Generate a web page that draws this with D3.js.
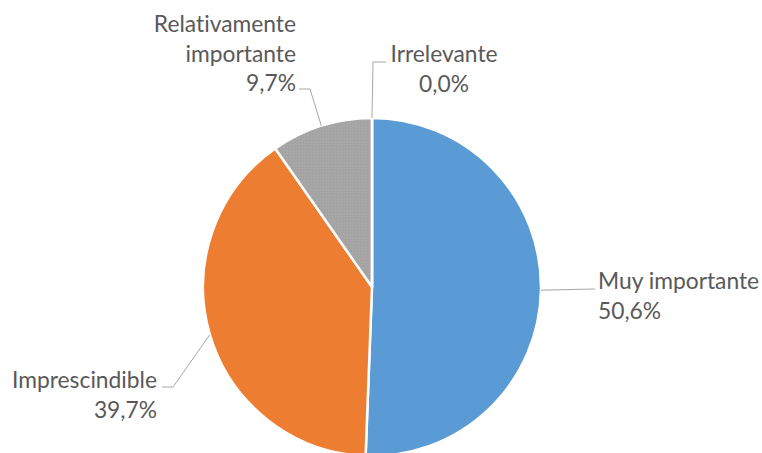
<!DOCTYPE html>
<html lang="es">
<head>
  <meta charset="utf-8" />
  <script src="https://d3js.org/d3.v7.min.js"></script>
  <style>
    body { margin: 0; background: #fff; }
    .label { font-family: Lato, "Open Sans", sans-serif; font-size: 22.8px; fill: #595959; font-variant-ligatures: none; }
    .leader { fill: none; stroke: #a6a6a6; stroke-width: 1px; }
  </style>
</head>
<body>
  <div id="visu"></div>
  <script>
    const width = 762, height = 453;

    // datos
    const categorias = ["Muy importante", "Imprescindible", "Relativamente importante", "Irrelevante"];
    const valores = [50.6, 39.7, 9.7, 0.0];
    const colores = ["#5b9bd5", "#ed7d31", "#a5a5a5", "#7f7f7f"];
    const lineasEtiqueta = [["Muy importante"], ["Imprescindible"], ["Relativamente", "importante"], ["Irrelevante"]];

    const cx = 372, cy = 287, radius = 169;

    // posicion de las etiquetas (x, y de la primera linea) y codo de la linea guia
    const layout = [
      { anchor: "start", x: 598, y: 289, elbow: null, end: [595, 289] },
      { anchor: "end", x: 157, y: 388, elbow: [173, 387], end: [162, 387] },
      { anchor: "end", x: 296, y: 32, elbow: [310, 89], end: [299, 89] },
      { anchor: "middle", x: 444, y: 62, elbow: [373, 62], end: [386, 62] }
    ];

    const svg = d3.select("#visu").append("svg")
      .attr("width", width)
      .attr("height", height);

    // textura ligera del sector gris
    const defs = svg.append("defs");
    const pat = defs.append("pattern")
      .attr("id", "gris")
      .attr("width", 3).attr("height", 3)
      .attr("patternUnits", "userSpaceOnUse");
    pat.append("rect").attr("width", 3).attr("height", 3).attr("fill", "#a5a5a5");
    pat.append("rect").attr("width", 1).attr("height", 1).attr("fill", "#9f9f9f");
    pat.append("rect").attr("x", 2).attr("y", 1).attr("width", 1).attr("height", 1).attr("fill", "#aaaaaa");

    const datos = categorias.map((c, i) => ({ cat: c, value: valores[i], color: colores[i], lines: lineasEtiqueta[i] }));

    const pie = d3.pie().sort(null).value(d => d.value);
    const arcs = pie(datos);

    const arc = d3.arc().innerRadius(0).outerRadius(radius);
    const edge = d3.arc().innerRadius(radius).outerRadius(radius);

    const g = svg.append("g").attr("transform", `translate(${cx},${cy})`);

    g.selectAll("path.slice")
      .data(arcs)
      .enter().append("path")
      .attr("class", "slice")
      .attr("d", arc)
      .attr("fill", (d, i) => i === 2 ? "url(#gris)" : d.data.color)
      .attr("stroke", "#fff")
      .attr("stroke-width", 2.5)
      .attr("stroke-linejoin", "round");

    // lineas guia
    svg.selectAll("path.leader")
      .data(arcs)
      .enter().append("path")
      .attr("class", "leader")
      .attr("d", (d, i) => {
        const p = edge.centroid(d);
        const l = layout[i];
        const pts = [[cx + p[0], cy + p[1]]];
        if (l.elbow) pts.push(l.elbow);
        pts.push(l.end);
        return d3.line()(pts);
      });

    // etiquetas
    const fmt = v => v.toFixed(1).replace(".", ",") + "%";
    const lineH = 29.5;

    arcs.forEach((d, i) => {
      const l = layout[i];
      const t = svg.append("text")
        .attr("class", "label")
        .attr("text-anchor", l.anchor);
      const lines = d.data.lines.concat([fmt(d.data.value)]);
      lines.forEach((s, j) => {
        t.append("tspan")
          .attr("x", l.x)
          .attr("y", l.y + j * lineH)
          .text(s);
      });
    });
  </script>
</body>
</html>
